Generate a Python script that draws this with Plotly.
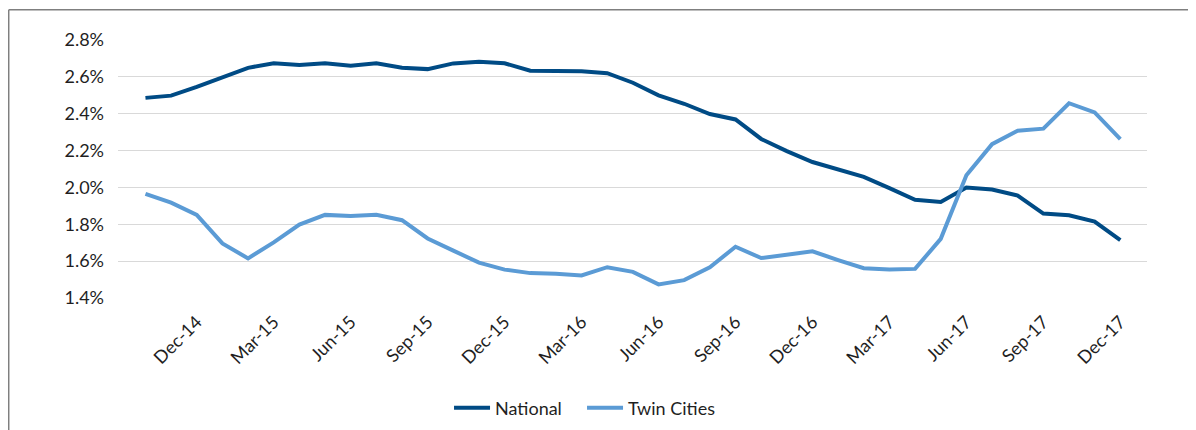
import plotly.graph_objects as go

months = ["Oct-14", "Nov-14", "Dec-14", "Jan-15", "Feb-15", "Mar-15", "Apr-15", "May-15", "Jun-15",
          "Jul-15", "Aug-15", "Sep-15", "Oct-15", "Nov-15", "Dec-15", "Jan-16", "Feb-16", "Mar-16",
          "Apr-16", "May-16", "Jun-16", "Jul-16", "Aug-16", "Sep-16", "Oct-16", "Nov-16", "Dec-16",
          "Jan-17", "Feb-17", "Mar-17", "Apr-17", "May-17", "Jun-17", "Jul-17", "Aug-17", "Sep-17",
          "Oct-17", "Nov-17", "Dec-17"]

national = [2.486, 2.498, 2.545, 2.597, 2.649, 2.674, 2.665, 2.674, 2.660,
            2.674, 2.649, 2.642, 2.673, 2.682, 2.674, 2.633, 2.631, 2.631,
            2.620, 2.568, 2.500, 2.454, 2.398, 2.369, 2.263, 2.197, 2.138,
            2.098, 2.057, 1.996, 1.933, 1.921, 2.000, 1.989, 1.956, 1.858,
            1.849, 1.815, 1.714]

twin_cities = [1.965, 1.917, 1.851, 1.696, 1.615, 1.702, 1.798, 1.851, 1.845,
               1.852, 1.822, 1.723, 1.657, 1.592, 1.554, 1.535, 1.531, 1.522,
               1.567, 1.542, 1.474, 1.497, 1.567, 1.678, 1.617, 1.635, 1.653,
               1.606, 1.562, 1.554, 1.558, 1.721, 2.066, 2.235, 2.308, 2.319,
               2.457, 2.407, 2.262]

tick_labels = ["Dec-14", "Mar-15", "Jun-15", "Sep-15", "Dec-15", "Mar-16", "Jun-16",
               "Sep-16", "Dec-16", "Mar-17", "Jun-17", "Sep-17", "Dec-17"]

y_ticks = [1.4, 1.6, 1.8, 2.0, 2.2, 2.4, 2.6, 2.8]
y_tick_text = ["1.4%", "1.6%", "1.8%", "2.0%", "2.2%", "2.4%", "2.6%", "2.8%"]

FONT = "Lato, 'Noto Sans', sans-serif"
TEXT = "#1F1F1F"

fig = go.Figure()
fig.add_trace(go.Scatter(x=months, y=national, name="National", mode="lines",
                         line=dict(color="#004B85", width=4)))
fig.add_trace(go.Scatter(x=months, y=twin_cities, name="Twin Cities", mode="lines",
                         line=dict(color="#5B9BD5", width=4)))

fig.update_layout(
    width=1196, height=430,
    margin=dict(l=110, r=57, t=32, b=138),
    paper_bgcolor="white", plot_bgcolor="white",
    font=dict(family=FONT, size=17, color=TEXT),
    showlegend=True,
    legend=dict(orientation="h", x=0.3217, y=-0.427, xanchor="left", yanchor="middle",
                itemwidth=36, entrywidth=82, entrywidthmode="pixels",
                font=dict(size=18, color=TEXT), bgcolor="rgba(0,0,0,0)"),
    xaxis=dict(type="category", range=[-1.07, 39.04], tickmode="array",
               tickvals=tick_labels, ticktext=tick_labels, tickangle=-45,
               showgrid=False, showline=False, zeroline=False, ticks="",
               ticklabelstandoff=9, tickfont=dict(size=18, color=TEXT)),
    yaxis=dict(range=[1.4, 2.8], tickmode="array", tickvals=y_ticks, ticktext=y_tick_text,
               showgrid=True, gridcolor="#D9D9D9", gridwidth=1, zeroline=False,
               showline=False, ticks="", ticklabelstandoff=13,
               tickfont=dict(size=18, color=TEXT)),
    shapes=[
        dict(type="line", xref="paper", yref="paper", x0=-0.1062, x1=1.1, y0=1.117, y1=1.117,
             line=dict(color="#7F7F7F", width=1.5)),
        dict(type="line", xref="paper", yref="paper", x0=-0.1062, x1=-0.1062, y0=1.117, y1=-0.6,
             line=dict(color="#7F7F7F", width=1.5)),
    ],
)

fig.write_html("out.html")
